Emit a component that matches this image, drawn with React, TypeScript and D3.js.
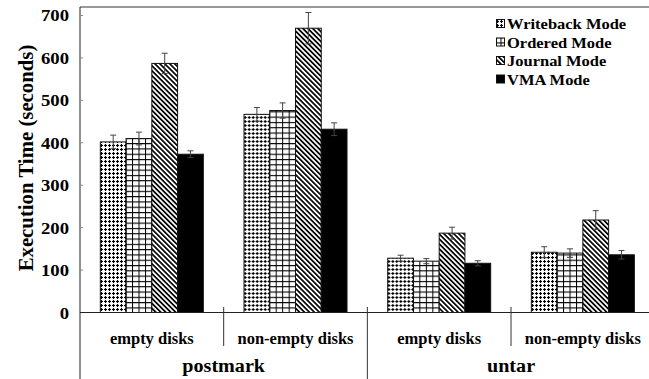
import React from 'react';
import * as d3 from 'd3';

const categories = ['empty disks', 'non-empty disks', 'empty disks', 'non-empty disks'];
const groups = ['postmark', 'untar'];
const seriesNames = ['Writeback Mode', 'Ordered Mode', 'Journal Mode', 'VMA Mode'];

const writeback = [402, 467, 128, 142];
const writebackErr = [16, 16, 7, 13];
const ordered = [410, 476, 121, 140];
const orderedErr = [15, 18, 6, 10];
const journal = [587, 670, 187, 218];
const journalErr = [24, 37, 14, 22];
const vma = [373, 432, 116, 136];
const vmaErr = [8, 15, 6, 10];

const yTicks = [0, 100, 200, 300, 400, 500, 600, 700];

const values = [writeback, ordered, journal, vma];
const errors = [writebackErr, orderedErr, journalErr, vmaErr];
const fills = ['url(#pDots)', 'url(#pGrid)', 'url(#pDiag)', '#000'];

const W = 649;
const H = 379;
const font = '"Liberation Serif", "Times New Roman", serif';

export default function App() {
  const left = 80;
  const top = 7;
  const bottom = 312.5;

  const x0 = d3.scaleBand<number>()
    .domain(d3.range(categories.length))
    .range([left, 654.7])
    .paddingInner(0)
    .paddingOuter(0);

  const x1 = d3.scaleBand<number>()
    .domain(d3.range(seriesNames.length))
    .range([0, x0.bandwidth()])
    .paddingInner(0)
    .paddingOuter(0.79);

  const y = d3.scaleLinear().domain([0, 720]).range([bottom, top]);

  const stretched = (x: number, yy: number, sx: number, anchor: string, size: number, txt: string, key?: any) => (
    <text key={key} transform={`translate(${x},${yy}) scale(${sx},1)`} textAnchor={anchor}
      fontFamily={font} fontWeight="bold" fontSize={size} fill="#000">{txt}</text>
  );

  return (
    <div style={{ position: 'absolute', left: 0, top: 0 }}>
      <svg width={W} height={H} style={{ display: 'block', background: '#fff' }}>
        <defs>
          <pattern id="pDots" width="4" height="4" patternUnits="userSpaceOnUse">
            <rect width="4" height="4" fill="#fff" />
            <path d="M1 0h1v1h1v1h-1v1h-1v-1h-1v-1h1z" fill="#000" shapeRendering="crispEdges" />
            <rect x="0.5" y="0.5" width="2" height="2" fill="#000" opacity="0.35" />
          </pattern>
          <pattern id="pGrid" width="6.5" height="5.3" patternUnits="userSpaceOnUse">
            <rect width="6.5" height="5.3" fill="#fff" />
            <path d="M0 0.5H6.5M0.5 0V5.3" stroke="#000" strokeWidth="1" />
          </pattern>
          <pattern id="pDiag" width="3.5" height="3.5" patternUnits="userSpaceOnUse" patternTransform="rotate(-45)">
            <rect width="3.5" height="3.5" fill="#fff" />
            <rect width="1.7" height="3.5" fill="#000" />
          </pattern>
        </defs>

        {/* frame top and axes */}
        <line x1={left} x2={W} y1={top} y2={top} stroke="#333" strokeWidth={1} />
        <line x1={left} x2={left} y1={top} y2={H} stroke="#222" strokeWidth={1} />

        {/* y ticks */}
        {yTicks.map(t => (
          <g key={t}>
            <line x1={left} x2={left + 3} y1={y(t)} y2={y(t)} stroke="#888" strokeWidth={1} />
            {stretched(69, y(t) + 6, 1.1, 'end', 17, String(t))}
          </g>
        ))}

        {/* bars */}
        {categories.map((c, ci) => (
          <g key={ci} transform={`translate(${x0(ci)},0)`}>
            {values.map((vals, si) => {
              const bx = x1(si)!;
              const bw = x1.bandwidth();
              const v = vals[ci];
              const e = errors[si][ci];
              const cx = bx + bw / 2;
              return (
                <g key={si}>
                  <rect x={bx} y={y(v)} width={bw} height={bottom - y(v)} fill={fills[si]} stroke="#111" strokeWidth={1} />
                  <line x1={cx} x2={cx} y1={y(v + e)} y2={y(v - e)} stroke="#444" strokeWidth={1} />
                  <line x1={cx - 3} x2={cx + 3} y1={y(v + e)} y2={y(v + e)} stroke="#444" strokeWidth={1} />
                  <line x1={cx - 3} x2={cx + 3} y1={y(v - e)} y2={y(v - e)} stroke="#444" strokeWidth={1} />
                </g>
              );
            })}
          </g>
        ))}

        {/* x axis */}
        <line x1={left} x2={W} y1={bottom} y2={bottom} stroke="#222" strokeWidth={1} />

        {/* category separators */}
        {d3.range(1, categories.length).map(i => (
          <line key={i} x1={x0(i)!} x2={x0(i)!} y1={307} y2={i === 2 ? H : 346} stroke="#333" strokeWidth={1} />
        ))}

        {/* category labels */}
        {categories.map((c, ci) => stretched(x0(ci)! + x0.bandwidth() / 2, 344, 1.0, 'middle', 16.5, c, 'c' + ci))}

        {/* group labels */}
        {groups.map((g, gi) => stretched(x0(gi * 2)! + x0.bandwidth(), 372, 1.06, 'middle', 19, g, 'g' + gi))}

        {/* y title */}
        <text transform={`translate(33,158) rotate(-90) scale(1.04,1)`} textAnchor="middle"
          fontFamily={font} fontWeight="bold" fontSize={20} fill="#000">Execution Time (seconds)</text>

        {/* legend */}
        {seriesNames.map((s, si) => {
          const ly = 24 + si * 18.5;
          return (
            <g key={s}>
              <rect x={496.5} y={ly - 4.5} width={8} height={8} fill={fills[si]} stroke="#111" strokeWidth={1} />
              {stretched(507, ly + 5, 1.1, 'start', 15, s)}
            </g>
          );
        })}
      </svg>
    </div>
  );
}
